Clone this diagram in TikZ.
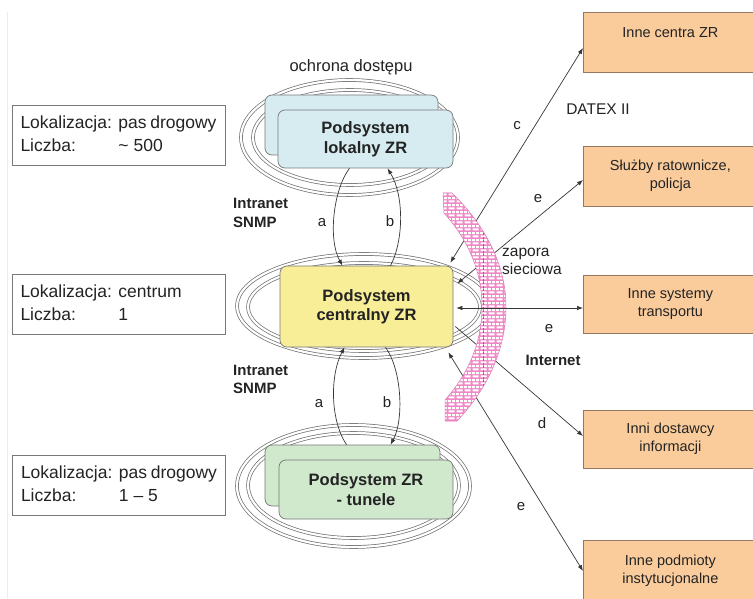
\documentclass[tikz,border=0pt]{standalone}
\usepackage{fontspec}
\setmainfont{Liberation Sans}
\usetikzlibrary{calc,patterns,arrows.meta}
\definecolor{blueF}{RGB}{214,236,241}
\definecolor{yelF}{RGB}{248,238,152}
\definecolor{grnF}{RGB}{208,232,204}
\definecolor{orF}{RGB}{250,204,156}
\definecolor{orD}{RGB}{150,120,95}
\definecolor{ringC}{RGB}{110,110,110}
\definecolor{txtC}{RGB}{35,35,35}
\definecolor{pinkF}{RGB}{240,135,198}
\definecolor{pinkD}{RGB}{215,60,145}
\definecolor{lineC}{RGB}{55,55,55}
\definecolor{boxD}{RGB}{120,120,120}
\pgfdeclarepatternformonly{wbricks}{\pgfpoint{0pt}{0pt}}{\pgfpoint{8pt}{7.2pt}}{\pgfpoint{8pt}{7.2pt}}{%
  \pgfpathrectangle{\pgfpoint{0.7pt}{0.7pt}}{\pgfpoint{6.6pt}{2.2pt}}%
  \pgfpathrectangle{\pgfpoint{4.7pt}{4.3pt}}{\pgfpoint{3.3pt}{2.2pt}}%
  \pgfpathrectangle{\pgfpoint{0pt}{4.3pt}}{\pgfpoint{3.3pt}{2.2pt}}%
  \pgfusepath{fill}}
\begin{document}
\begin{tikzpicture}[x=1pt,y=-1pt,
  ring/.style={draw=ringC, line width=0.7pt, double=white, double distance=2.2pt},
  subbox/.style={draw=boxD, rounded corners=7pt, line width=0.7pt, inner sep=0pt, text=txtC, align=center, font=\fontsize{16.5}{19.5}\selectfont\bfseries},
  infobox/.style={draw=boxD, line width=0.8pt, minimum width=213pt, minimum height=60pt, inner sep=0pt, text=txtC, font=\fontsize{17.5}{23}\selectfont},
  extbox/.style={draw=orD, fill=orF, line width=0.8pt, minimum width=174pt, anchor=west, inner sep=0pt, align=center, text=txtC, font=\fontsize{14.5}{18}\selectfont},
  conn/.style={draw=lineC, line width=0.7pt},
  one/.style={conn, -{Latex[length=6pt,width=4.5pt]}},
  two/.style={conn, {Latex[length=6pt,width=4.5pt]}-{Latex[length=6pt,width=4.5pt]}},
  lbl/.style={text=txtC, inner sep=0pt, anchor=base, font=\fontsize{15}{18}\selectfont},
  blbl/.style={lbl, font=\fontsize{15}{18}\selectfont\bfseries}
]
\newcommand{\infotab}[2]{\begin{tabular}{@{}p{92pt}@{\hspace{6pt}}p{98pt}@{}}Lokalizacja: & #1\\ Liczba: & #2\end{tabular}}
\newcommand{\fwpath}{(443,193) -- (452,193) .. controls (488,228) and (506,268) .. (506,307)
  .. controls (506,346) and (490,386) .. (457,421) -- (445,421) -- (445,400)
  .. controls (470,372) and (482,340) .. (482,307)
  .. controls (482,274) and (470,242) .. (444,213) -- cycle}
\useasboundingbox (0,0) rectangle (753,599);
\fill[white] (0,0) rectangle (753,599);
\draw[gray!15, line width=0.8pt] (7,12) -- (7,599);

% rings
\draw[ring] (349.5,137.5) ellipse [x radius=108.5, y radius=57.5];
\draw[ring] (350,137.5) ellipse [x radius=97, y radius=47.5];
\draw[ring] (364,306) ellipse [x radius=127, y radius=52];
\draw[ring] (364,307) ellipse [x radius=116, y radius=44];
\draw[ring] (353.5,486) ellipse [x radius=116.5, y radius=61];
\draw[ring] (353.5,485.5) ellipse [x radius=105.5, y radius=52.5];

% left info boxes
\node[infobox] (L1) at (118.5,135) {\infotab{pas drogowy}{\textasciitilde\ 500}};
\node[infobox] (L2) at (118.5,304.5) {\infotab{centrum}{1}};
\node[infobox] (L3) at (119,485) {\infotab{pas drogowy}{1 – 5}};

% subsystem boxes
\node[subbox, fill=blueF, minimum width=173pt, minimum height=60pt] (P1B) at (351.5,125) {};
\node[subbox, fill=blueF, minimum width=175pt, minimum height=58pt] (P1F) at (365.5,139) {Podsystem\\lokalny ZR};
\node[subbox, fill=yelF, minimum width=173pt, minimum height=81pt] (Y) at (366.5,306.5) {Podsystem\\centralny ZR};
\node[subbox, fill=grnF, minimum width=175pt, minimum height=61pt] (G1B) at (352.5,475.5) {};
\node[subbox, fill=grnF, minimum width=174pt, minimum height=59pt] (G1F) at (366,489.5) {Podsystem ZR\\- tunele};

% a / b connectors
\draw[one] ($(P1F.south)+(-16,0)$) .. controls (333,190) and (328,240) .. ($(Y.north)+(-24,0)$);
\draw[one] ($(Y.north)+(24,0)$) .. controls (404,240) and (404,195) .. ($(P1F.south)+(22,0)$);
\draw[one] ($(G1B.north)+(-6,0)$) .. controls (330,420) and (330,375) .. ($(Y.south)+(-22,0)$);
\draw[one] ($(Y.south)+(19,0)$) .. controls (402,370) and (404,420) .. ($(G1B.north)+(38,0)$);

% external boxes
\node[extbox, minimum height=60pt] (O1) at (583,42) {Inne centra ZR\\\mbox{}};
\node[extbox, minimum height=60pt] (O2) at (583,176) {Służby ratownicze,\\policja};
\node[extbox, minimum height=58pt] (O3) at (583,304) {Inne systemy\\transportu};
\node[extbox, minimum height=58pt] (O4) at (583,439) {Inni dostawcy\\informacji};
\node[extbox, minimum height=62pt] (O5) at (583,571) {Inne podmioty\\instytucjonalne};

% external connectors
\draw[two] ($(Y.north east)+(-3,-3)$) -- ($(O1.west)+(0,6)$);
\draw[two] ($(Y.east)+(4,-23)$) -- ($(O2.west)+(0,4)$);
\draw[one] ($(Y.east)+(2,20)$) -- ($(O4.west)+(0,-3)$);
\draw[two] ($(Y.south east)+(-5,5)$) -- (O5.west);

% firewall
\path[fill=pinkF] \fwpath;
\path[pattern=wbricks, pattern color=white] \fwpath;
\begin{scope}
\clip \fwpath;
\draw[pinkD, line width=0.5pt, dash pattern=on 2pt off 1.5pt] (483,205) -- (483,415);
\end{scope}
\draw[pinkD!70, line width=0.5pt] \fwpath;

\draw[two] ($(Y.east)+(3,1.5)$) -- ($(O3.west)+(0,4)$);

% labels
\node[lbl, font=\fontsize{16.5}{19}\selectfont] (t1) at (351,72) {ochrona dostępu};
\node[lbl] (ta1) at (322,226) {a};
\node[lbl] (tb1) at (390,226) {b};
\node[lbl] (ta2) at (319,407) {a};
\node[lbl] (tb2) at (387,407) {b};
\node[blbl, anchor=base west, align=left] (in1) at (233,227) {Intranet\\SNMP};
\node[blbl, anchor=base west, align=left] (in2) at (233,393) {Intranet\\SNMP};
\node[lbl] (tc) at (517,130) {c};
\node[lbl, font=\fontsize{15.5}{18}\selectfont] (dx) at (598,115) {DATEX II};
\node[lbl] (te2) at (538,203) {e};
\node[lbl, anchor=base west, align=left, font=\fontsize{15.5}{18}\selectfont] (zap) at (502,274) {zapora\\sieciowa};
\node[lbl] (te3) at (549,332) {e};
\node[blbl] (inet) at (553,365) {Internet};
\node[lbl] (td) at (542,428) {d};
\node[lbl] (te5) at (521,510) {e};
\end{tikzpicture}
\end{document}
